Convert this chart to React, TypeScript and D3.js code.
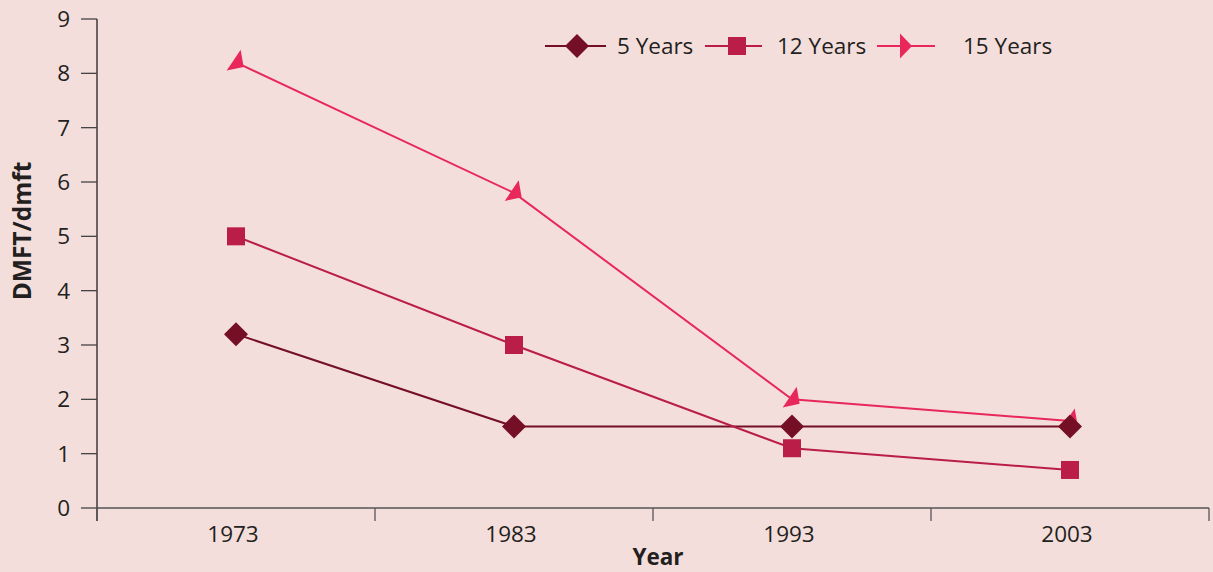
import React from "react";
import * as d3 from "d3";

const years = ["1973", "1983", "1993", "2003"];
const fiveYears = [3.2, 1.5, 1.5, 1.5];
const twelveYears = [5.0, 3.0, 1.1, 0.7];
const fifteenYears = [8.2, 5.8, 2.0, 1.6];
const yTicks = [0, 1, 2, 3, 4, 5, 6, 7, 8, 9];
const seriesNames = ["5 Years", "12 Years", "15 Years"];

const W = 1213;
const H = 572;
const FONT = "'Open Sans', 'Noto Sans', sans-serif";
const FS = 22.5;

const colors = ["#750f25", "#b91d48", "#e8285a"];

function Marker({ kind, x, y, color }: { kind: number; x: number; y: number; color: string }) {
  if (kind === 0) {
    const s = 12;
    return <path d={`M${x - s},${y}L${x},${y - s}L${x + s},${y}L${x},${y + s}Z`} fill={color} />;
  }
  if (kind === 1) {
    const s = 9;
    return <rect x={x - s} y={y - s} width={2 * s} height={2 * s} fill={color} />;
  }
  return null;
}

function Tri({ x, y, color, rot }: { x: number; y: number; color: string; rot: number }) {
  return (
    <path
      d={`M${-4},${-12.5}L${-4},${12.5}L${8},${0}Z`}
      transform={`translate(${x},${y}) rotate(${rot})`}
      fill={color}
    />
  );
}

export default function App() {
  const x = d3.scaleBand<string>().domain(years).range([97, 1209]);
  const y = d3.scaleLinear().domain([0, 9]).range([508, 19]);
  const cx = (d: string) => (x(d) as number) + x.bandwidth() / 2;
  const data = [fiveYears, twelveYears, fifteenYears];
  const line = d3
    .line<number>()
    .x((_, i) => cx(years[i]))
    .y((v) => y(v));

  const xTickPos = [...years.map((d) => x(d) as number), 1209];

  const legend = [
    { x1: 545, x2: 606, mx: 577, tx: 617 },
    { x1: 705, x2: 762, mx: 737, tx: 777 },
    { x1: 877, x2: 935, mx: 904, tx: 963 },
  ];
  const ly = 46;

  return (
    <svg width={W} height={H} style={{ position: "absolute", left: 0, top: 0, background: "#f3dedc" }}>
      <rect x={0} y={0} width={W} height={H} fill="#f3dedc" />
      {/* y axis */}
      <line x1={97} x2={97} y1={19} y2={521} stroke="#231f20" strokeWidth={1.3} />
      {yTicks.map((t) => (
        <g key={t}>
          <line x1={81} x2={97} y1={y(t)} y2={y(t)} stroke="#444" strokeWidth={1.3} />
          <text x={70} y={y(t)} dy="0.35em" textAnchor="end" fontFamily={FONT} fontSize={FS} fill="#231f20">
            {t}
          </text>
        </g>
      ))}
      {/* x axis */}
      <line x1={97} x2={1209} y1={508} y2={508} stroke="#555" strokeWidth={1.3} />
      {xTickPos.map((p, i) => (
        <line key={i} x1={p} x2={p} y1={508} y2={521} stroke="#555" strokeWidth={1.3} />
      ))}
      {years.map((d) => (
        <text key={d} x={cx(d) - 3} y={542} textAnchor="middle" fontFamily={FONT} fontSize={FS} fill="#231f20">
          {d}
        </text>
      ))}
      <text x={658} y={565} textAnchor="middle" fontFamily={FONT} fontWeight="bold" fontSize={22.5} fill="#231f20">
        Year
      </text>
      <text
        transform="translate(31,231) rotate(-90)"
        textAnchor="middle"
        fontFamily={FONT}
        fontWeight="bold"
        fontSize={24.5}
        fill="#231f20"
      >
        DMFT/dmft
      </text>

      {/* lines */}
      {data.map((vals, si) => (
        <path key={si} d={line(vals) as string} fill="none" stroke={colors[si]} strokeWidth={2} />
      ))}
      {fifteenYears.map((v, i) => (
        <Tri key={"t" + i} x={cx(years[i]) + 1} y={y(v)} color={colors[2]} rot={34} />
      ))}
      {twelveYears.map((v, i) => (
        <Marker key={"s" + i} kind={1} x={cx(years[i])} y={y(v)} color={colors[1]} />
      ))}
      {fiveYears.map((v, i) => (
        <Marker key={"d" + i} kind={0} x={cx(years[i])} y={y(v)} color={colors[0]} />
      ))}

      {/* legend */}
      {legend.map((l, i) => (
        <g key={i}>
          <line x1={l.x1} x2={l.x2} y1={ly} y2={ly} stroke={colors[i]} strokeWidth={2} />
          {i < 2 ? (
            <Marker kind={i} x={l.mx} y={ly} color={colors[i]} />
          ) : (
            <Tri x={l.mx} y={ly} color={colors[i]} rot={0} />
          )}
          <text x={l.tx} y={ly} dy="0.35em" fontFamily={FONT} fontSize={FS} fill="#231f20">
            {seriesNames[i]}
          </text>
        </g>
      ))}
    </svg>
  );
}
